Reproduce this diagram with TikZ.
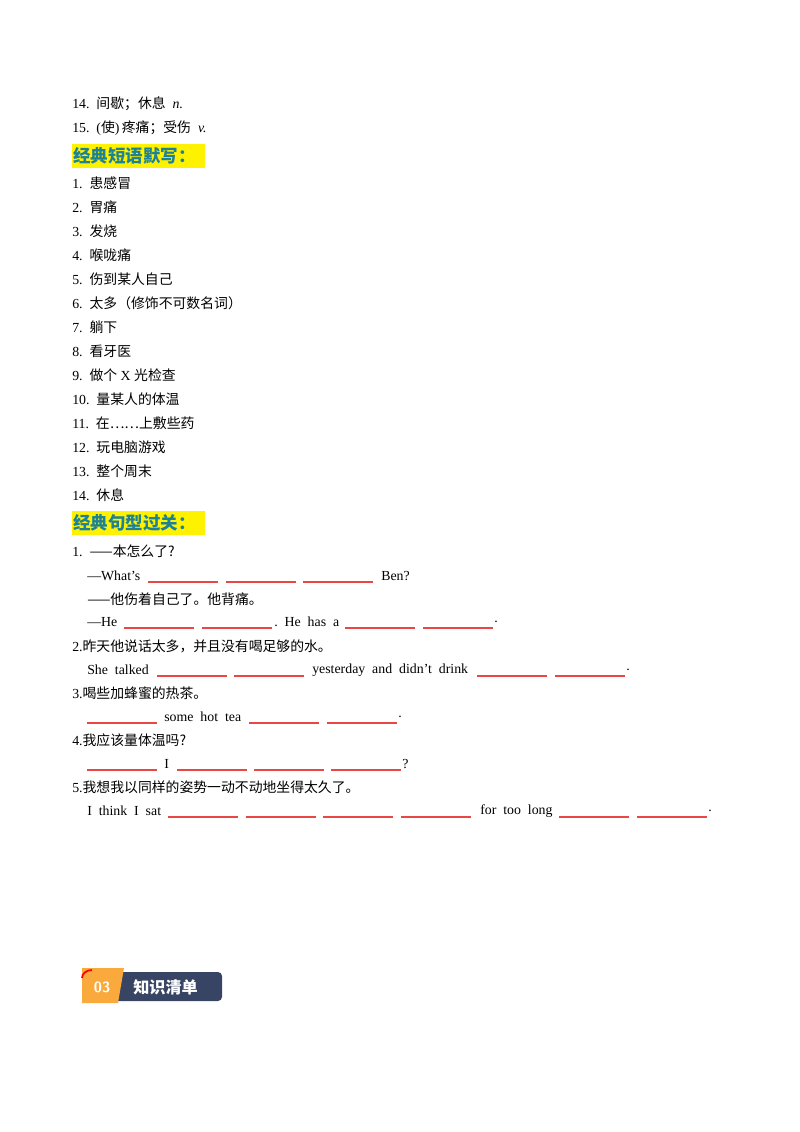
\documentclass[tikz,border=0pt]{standalone}
\usepackage{fontspec}
\setmainfont{Liberation Serif}
\newfontfamily\cjk{Noto Sans CJK SC}
\definecolor{hdr}{RGB}{30,130,150}
\definecolor{navy}{RGB}{55,68,100}
\definecolor{orng}{RGB}{250,170,60}
\definecolor{blk}{RGB}{235,70,70}
\begin{document}
\begin{tikzpicture}[x=0.744pt,y=-0.744pt,
  tx/.style={anchor=west,inner sep=0pt,font=\fontsize{10.3pt}{12pt}\selectfont},
  hd/.style={anchor=west,inner sep=0pt,font=\fontsize{13pt}{15pt}\selectfont\cjk\bfseries,text=hdr}]
\useasboundingbox (0,0) rectangle (800,1132);
\newcommand{\bl}[2]{\draw[blk,line width=0.8pt] (#1,#2+6) -- ++(70,0);}
\node[tx] (a14) at (72,104) {14.\ \ {\cjk 间歇；休息}\ \ \textit{n.}};
\node[tx] (a15) at (72,128) {15.\ \ ({\cjk 使})\,{\cjk 疼痛；受伤}\ \ \textit{v.}};
\fill[yellow] (72,144) rectangle (205,168);
\node[hd] (h1) at (73,156) {经典短语默写：};
\foreach \n/\t [count=\i] in {1/患感冒,2/胃痛,3/发烧,4/喉咙痛,5/伤到某人自己,6/太多（修饰不可数名词）,7/躺下,8/看牙医,9/做个\textrm{ X }光检查,10/量某人的体温,11/在……上敷些药,12/玩电脑游戏,13/整个周末,14/休息}
  \node[tx] (p\i) at (72,159+24*\i) {\n.\ \ {\cjk \t}};
\fill[yellow] (72,511) rectangle (205,535);
\node[hd] (h2) at (73,523) {经典句型过关：};
\node[tx] (s1) at (72,551) {1.\ \ {\cjk ——本怎么了?}};
\node[tx] (s1a) at (87,576) {—What’s}; \bl{148}{576}\bl{226}{576}\bl{303}{576}
\node[tx] (s1b) at (381,576) {Ben?};
\node[tx] (s1c) at (87,599) {\cjk ——他伤着自己了。他背痛。};
\node[tx] (s1d) at (87,622) {—He}; \bl{124}{622}\bl{202}{622}
\node[tx] (s1e) at (274,622) {.\ \ He\ \ has\ \ a}; \bl{345}{622}\bl{423}{622}
\node[tx] (s1f) at (494,622) {.};
\node[tx] (s2) at (72,646) {2.{\cjk 昨天他说话太多，并且没有喝足够的水。}};
\node[tx] (s2a) at (87,670) {She\ \ talked}; \bl{157}{670}\bl{234}{670}
\node[tx] (s2b) at (312,670) {yesterday\ \ and\ \ didn’t\ \ drink}; \bl{477}{670}\bl{555}{670}
\node[tx] (s2c) at (626,670) {.};
\node[tx] (s3) at (72,693) {3.{\cjk 喝些加蜂蜜的热茶。}};
\bl{87}{717}\node[tx] (s3a) at (164,717) {some\ \ hot\ \ tea}; \bl{249}{717}\bl{327}{717}
\node[tx] (s3b) at (398,717) {.};
\node[tx] (s4) at (72,740) {4.{\cjk 我应该量体温吗?}};
\bl{87}{764}\node[tx] (s4a) at (164,764) {I}; \bl{177}{764}\bl{254}{764}\bl{331}{764}
\node[tx] (s4b) at (402,764) {?};
\node[tx] (s5) at (72,787) {5.{\cjk 我想我以同样的姿势一动不动地坐得太久了。}};
\node[tx] (s5a) at (87,811) {I\ \ think\ \ I\ \ sat}; \bl{168}{811}\bl{246}{811}\bl{323}{811}\bl{401}{811}
\node[tx] (s5b) at (480,811) {for\ \ too\ \ long}; \bl{559}{811}\bl{637}{811}
\node[tx] (s5c) at (708,811) {.};
% badge
\fill[navy,rounded corners=3pt] (112,972) rectangle (222,1001);
\fill[orng] (82,968) -- (124,968) -- (118,1003) -- (82,1003) -- cycle;
\draw[red,line width=1.3pt] (82,978) arc (180:270:10 and 8);
\node[anchor=center,inner sep=0pt,text=white,font=\fontsize{11pt}{12pt}\selectfont\sffamily\bfseries] (b1) at (102,987) {03};
\node[anchor=west,inner sep=0pt,text=white,font=\fontsize{12pt}{14pt}\selectfont\cjk\bfseries] (b2) at (133,987) {知识清单};
\end{tikzpicture}
\end{document}
